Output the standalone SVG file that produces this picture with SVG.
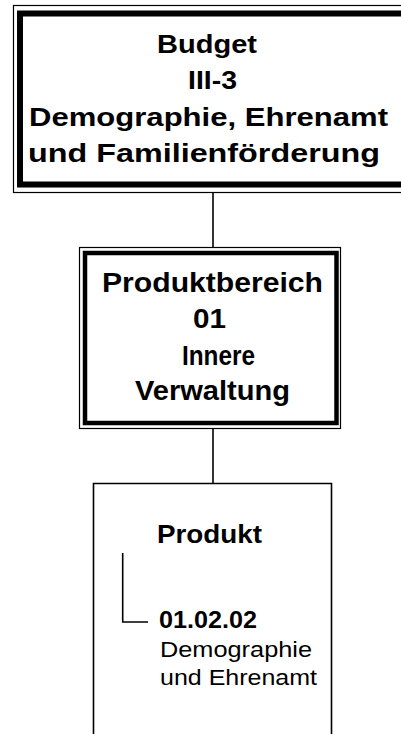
<svg xmlns="http://www.w3.org/2000/svg" width="401" height="734" viewBox="0 0 401 734">
<style>
.thin{fill:none;stroke:#000;stroke-width:1.2}
.thick{fill:none;stroke:#000}
.b{font-family:"Liberation Sans",Arial,sans-serif;font-weight:bold;fill:#000}
.r{font-family:"Liberation Sans",Arial,sans-serif;fill:#000}
.ln{fill:none;stroke:#000;stroke-width:1.6}
</style>
<rect width="401" height="734" fill="#fff"/>
<g id="connectors">
<line class="ln" x1="213" y1="192" x2="213" y2="248"/>
<line class="ln" x1="213" y1="428" x2="213" y2="484"/>
</g>
<g id="budget">
<rect class="thin" x="13.5" y="5.5" width="400" height="187"/>
<rect class="thick" x="20" y="13.5" width="400" height="171" stroke-width="6"/>
<text class="b" font-size="26" x="157" y="53" textLength="100" lengthAdjust="spacingAndGlyphs">Budget</text>
<text class="b" font-size="26" x="188" y="89" textLength="49" lengthAdjust="spacingAndGlyphs">III-3</text>
<text class="b" font-size="26" x="29" y="126" textLength="359" lengthAdjust="spacingAndGlyphs">Demographie, Ehrenamt</text>
<text class="b" font-size="26" x="28" y="162" textLength="352" lengthAdjust="spacingAndGlyphs">und Familienförderung</text>
</g>
<g id="produktbereich">
<rect class="thin" x="79.5" y="247.5" width="261" height="181"/>
<rect class="thick" x="85" y="253" width="251.5" height="170" stroke-width="4.5"/>
<text class="b" font-size="27" x="102" y="292" textLength="221" lengthAdjust="spacingAndGlyphs">Produktbereich</text>
<text class="b" font-size="27" x="193" y="328" textLength="33" lengthAdjust="spacingAndGlyphs">01</text>
<text class="b" font-size="27" x="182" y="365" textLength="73" lengthAdjust="spacingAndGlyphs">Innere</text>
<text class="b" font-size="27" x="135" y="400" textLength="155" lengthAdjust="spacingAndGlyphs">Verwaltung</text>
</g>
<g id="produkt">
<path class="ln" d="M93.5 740 V483.5 H331.5 V740"/>
<text class="b" font-size="25" x="157" y="543" textLength="105" lengthAdjust="spacingAndGlyphs">Produkt</text>
<path class="ln" d="M122.7 553 V622 H148"/>
<text class="b" font-size="24" x="159" y="628" textLength="98" lengthAdjust="spacingAndGlyphs">01.02.02</text>
<text class="r" font-size="22" x="160" y="657" textLength="152" lengthAdjust="spacingAndGlyphs">Demographie</text>
<text class="r" font-size="22" x="160" y="685" textLength="157" lengthAdjust="spacingAndGlyphs">und Ehrenamt</text>
</g>
</svg>
